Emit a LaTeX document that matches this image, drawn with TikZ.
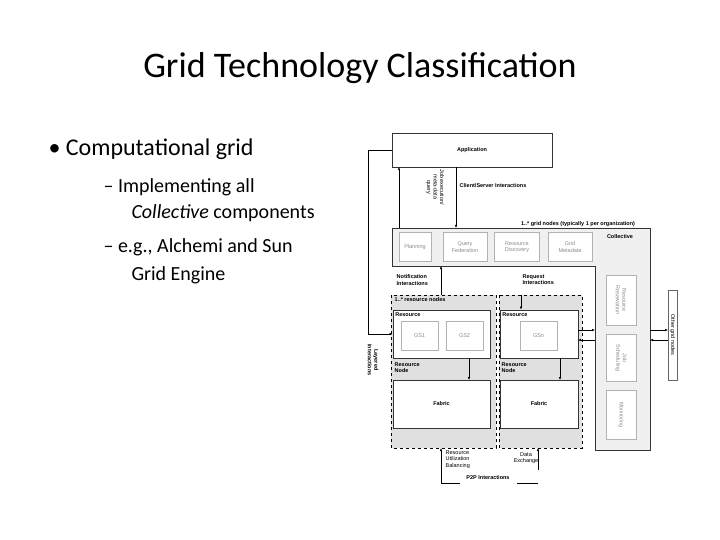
\documentclass[tikz,border=0pt]{standalone}
\usepackage{fontspec}
\setmainfont{Carlito}
\newfontfamily\dg{Liberation Sans}
\usetikzlibrary{arrows.meta}
\begin{document}
\begin{tikzpicture}[x=1pt,y=-1pt,
  box/.style={draw=black!80,fill=white,line width=0.8pt},
  inbox/.style={draw=black!30,fill=white,text=black!45,font=\dg\fontsize{5.5}{6.5}\selectfont,align=center,inner sep=0pt},
  lab/.style={font=\dg\bfseries\fontsize{5.5}{6.5}\selectfont,align=left,inner sep=0.5pt},
  arr/.style={-{Latex[length=3pt,width=2.5pt]},line width=0.5pt},
  dbox/.style={draw,dashed,fill=black!12,line width=0.6pt}]
\useasboundingbox (0,0) rectangle (720,540);
\node (title) at (360,68) {\fontsize{36}{40}\selectfont Grid Technology Classification};
\node[anchor=west] (b1) at (45,149) {\fontsize{24}{28}\selectfont • Computational grid};
\node[anchor=west] (b2) at (100,187) {\fontsize{20}{24}\selectfont – Implementing all};
\node[anchor=west] (b3) at (128,213) {\fontsize{20}{24}\selectfont \textit{Collective} components};
\node[anchor=west] (b4) at (100,247) {\fontsize{20}{24}\selectfont – e.g., Alchemi and Sun};
\node[anchor=west] (b5) at (128,275) {\fontsize{20}{24}\selectfont Grid Engine};
% dashed resource node groups
\draw[dbox] (391,295) rectangle (496,448);
\draw[dbox] (499,295) rectangle (582,448);
% collective
\draw[box,fill=black!6] (392,228) -- (650,228) -- (650,450) -- (595,450) -- (595,266) -- (392,266) -- cycle;
\node[box,minimum width=160pt,minimum height=34pt] (app) at (472,150) {\dg\bfseries\fontsize{5.5}{6.5}\selectfont Application};
\node[inbox,minimum width=32pt,minimum height=29pt] (plan) at (415,247) {Planning};
\node[inbox,minimum width=44pt,minimum height=29pt] (qf) at (465,247) {Query\\Federation};
\node[inbox,minimum width=45pt,minimum height=29pt] (rd) at (517,247) {Resource\\Discovery};
\node[inbox,minimum width=44pt,minimum height=29pt] (gm) at (570,247) {Grid\\Metadata};
\node[lab] (coll) at (620,237) {Collective};
\node[inbox,minimum width=30pt,minimum height=50pt] (rr) at (621,300) {};
\node[rotate=-90,text=black!45,font=\dg\fontsize{5.5}{6.5}\selectfont,align=center] at (rr) {Resource\\Reservation};
\node[inbox,minimum width=30pt,minimum height=47pt] (js) at (621,358) {};
\node[rotate=-90,text=black!45,font=\dg\fontsize{5.5}{6.5}\selectfont,align=center] at (js) {Job\\Scheduling};
\node[inbox,minimum width=30pt,minimum height=49pt] (mon) at (621,415) {};
\node[rotate=-90,text=black!45,font=\dg\fontsize{5.5}{6.5}\selectfont,align=center] at (mon) {Monitoring};
\node[lab,anchor=south] (gn) at (578,227) {1..* grid nodes (typically 1 per organization)};
% resources
\node[box,minimum width=97pt,minimum height=48pt] (res1) at (441.5,334) {};
\node[lab,anchor=north west] at ([shift={(2,2)}]res1.north west) {Resource};
\node[box,minimum width=78pt,minimum height=48pt] (res2) at (539,334) {};
\node[lab,anchor=north west] at ([shift={(2,2)}]res2.north west) {Resource};
\node[inbox,minimum width=37pt,minimum height=29pt] (gs1) at (419.5,336) {GS1};
\node[inbox,minimum width=37pt,minimum height=29pt] (gs2) at (464.5,336) {GS2};
\node[inbox,minimum width=37pt,minimum height=29pt] (gsn) at (538.5,336) {GSn};
\node[lab,anchor=north west] at (394,362) {Resource\\Node};
\node[lab,anchor=north west] at (501,362) {Resource\\Node};
\node[box,minimum width=97pt,minimum height=48pt] (fab1) at (441.5,404) {\dg\bfseries\fontsize{5.5}{6.5}\selectfont Fabric};
\node[box,minimum width=78pt,minimum height=48pt] (fab2) at (539,404) {\dg\bfseries\fontsize{5.5}{6.5}\selectfont Fabric};
\node[lab,anchor=north west] at (394,297) {1..* resource nodes};
% other grid nodes
\node[draw=black!60,fill=white,minimum width=9pt,minimum height=90pt,inner sep=0pt] (other) at (672.5,335) {};
\node[rotate=-90,font=\dg\fontsize{5.5}{6.5}\selectfont] at (other) {Other grid nodes};
% labels
\node[lab,rotate=-90,align=center,font=\dg\fontsize{5.5}{6.5}\selectfont] at (435,187) {Job execution/\\meta-data\\query};
\node[lab,anchor=west] at (459,186) {Client/Server Interactions};
\node[lab,anchor=north west] at (396,274) {Notification\\Interactions};
\node[lab,anchor=north west] at (522,274) {Request\\Interactions};
\node[lab,rotate=-90,align=center] at (373,360) {Layered\\Interactions};
\node[font=\dg\fontsize{5.5}{6.5}\selectfont,anchor=north west,align=left,inner sep=0.5pt] at (445,450) {Resource\\Utilization\\Balancing};
\node[font=\dg\fontsize{5.5}{6.5}\selectfont,align=center,inner sep=0.5pt] at (526,458) {Data\\Exchange};
\node[lab] at (488,478) {P2P Interactions};
% connectors
\draw[arr] (app.west) -- (app.west -| 368,0) |- (res1.west);
\draw[arr] (399,228) -- (399,167);
\draw[arr] (456,167) -- (456,228);
\draw[arr] (441,295) -- (441,266);
\draw[arr] (521,295) -- (res2.north -| 521,0);
\draw[arr] (469,358) -- (469,380);
\draw[arr] (560,358) -- (560,380);
\draw[arr] (578,330) -- (595,330);
\draw[arr] (595,340) -- (578,340);
\draw[arr] (650,330) -- (668,330);
\draw[arr] (668,340) -- (650,340);
\draw[arr] (441,483) -- (441,448);
\draw[line width=0.5pt] (441,483) -- (460,483);
\draw[line width=0.5pt] (517,483) -- (538,483);
\draw[arr] (538,470) -- (538,448);
\end{tikzpicture}
\end{document}
